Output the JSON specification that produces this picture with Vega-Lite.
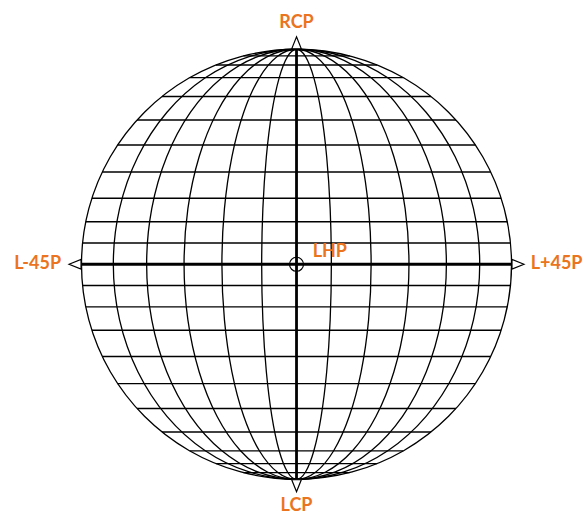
{
  "$schema": "https://vega.github.io/schema/vega-lite/v6.json",
  "width": 584,
  "height": 515,
  "padding": 0,
  "autosize": {"type": "none"},
  "background": "white",
  "config": {"view": {"stroke": null}},
  "encoding": {
    "x": {"field": "x", "type": "quantitative", "scale": {"domain": [-1.379, 1.337], "nice": false, "zero": false}, "axis": null},
    "y": {"field": "y", "type": "quantitative", "scale": {"domain": [-1.166, 1.229], "nice": false, "zero": false}, "axis": null}
  },
  "layer": [
    {
      "data": {"values": [
        {"y": 0.099, "x": -0.9951, "x2": 0.9951}, {"y": -0.099, "x": -0.9951, "x2": 0.9951},
        {"y": 0.198, "x": -0.9802, "x2": 0.9802}, {"y": -0.198, "x": -0.9802, "x2": 0.9802},
        {"y": 0.307, "x": -0.9517, "x2": 0.9517}, {"y": -0.307, "x": -0.9517, "x2": 0.9517},
        {"y": 0.429, "x": -0.9033, "x2": 0.9033}, {"y": -0.429, "x": -0.9033, "x2": 0.9033},
        {"y": 0.555, "x": -0.8319, "x2": 0.8319}, {"y": -0.555, "x": -0.8319, "x2": 0.8319},
        {"y": 0.671, "x": -0.7415, "x2": 0.7415}, {"y": -0.671, "x": -0.7415, "x2": 0.7415},
        {"y": 0.780, "x": -0.6258, "x2": 0.6258}, {"y": -0.780, "x": -0.6258, "x2": 0.6258},
        {"y": 0.868, "x": -0.4966, "x2": 0.4966}, {"y": -0.868, "x": -0.4966, "x2": 0.4966},
        {"y": 0.927, "x": -0.3751, "x2": 0.3751}, {"y": -0.927, "x": -0.3751, "x2": 0.3751},
        {"y": 0.969, "x": -0.2470, "x2": 0.2470}, {"y": -0.969, "x": -0.2470, "x2": 0.2470}
      ]},
      "mark": {"type": "rule", "color": "black", "strokeWidth": 1.4},
      "encoding": {"x2": {"field": "x2"}}
    },
    {
      "data": {"values": [
        {"m": 1, "o": 0, "x": 0, "y": 1}, {"m": 1, "o": 1, "x": 0.0419, "y": 0.9659}, {"m": 1, "o": 2, "x": 0.081, "y": 0.866}, {"m": 1, "o": 3, "x": 0.1146, "y": 0.7071}, {"m": 1, "o": 4, "x": 0.1403, "y": 0.5}, {"m": 1, "o": 5, "x": 0.1565, "y": 0.2588}, {"m": 1, "o": 6, "x": 0.162, "y": 0}, {"m": 1, "o": 7, "x": 0.1565, "y": -0.2588}, {"m": 1, "o": 8, "x": 0.1403, "y": -0.5}, {"m": 1, "o": 9, "x": 0.1146, "y": -0.7071}, {"m": 1, "o": 10, "x": 0.081, "y": -0.866}, {"m": 1, "o": 11, "x": 0.0419, "y": -0.9659},
        {"m": 1, "o": 12, "x": 0, "y": -1}, {"m": 1, "o": 13, "x": -0.0419, "y": -0.9659}, {"m": 1, "o": 14, "x": -0.081, "y": -0.866}, {"m": 1, "o": 15, "x": -0.1146, "y": -0.7071}, {"m": 1, "o": 16, "x": -0.1403, "y": -0.5}, {"m": 1, "o": 17, "x": -0.1565, "y": -0.2588}, {"m": 1, "o": 18, "x": -0.162, "y": 0}, {"m": 1, "o": 19, "x": -0.1565, "y": 0.2588}, {"m": 1, "o": 20, "x": -0.1403, "y": 0.5}, {"m": 1, "o": 21, "x": -0.1146, "y": 0.7071}, {"m": 1, "o": 22, "x": -0.081, "y": 0.866}, {"m": 1, "o": 23, "x": -0.0419, "y": 0.9659},

        {"m": 2, "o": 0, "x": 0, "y": 1}, {"m": 2, "o": 1, "x": 0.0898, "y": 0.9659}, {"m": 2, "o": 2, "x": 0.1735, "y": 0.866}, {"m": 2, "o": 3, "x": 0.2454, "y": 0.7071}, {"m": 2, "o": 4, "x": 0.3005, "y": 0.5}, {"m": 2, "o": 5, "x": 0.3352, "y": 0.2588}, {"m": 2, "o": 6, "x": 0.347, "y": 0}, {"m": 2, "o": 7, "x": 0.3352, "y": -0.2588}, {"m": 2, "o": 8, "x": 0.3005, "y": -0.5}, {"m": 2, "o": 9, "x": 0.2454, "y": -0.7071}, {"m": 2, "o": 10, "x": 0.1735, "y": -0.866}, {"m": 2, "o": 11, "x": 0.0898, "y": -0.9659},
        {"m": 2, "o": 12, "x": 0, "y": -1}, {"m": 2, "o": 13, "x": -0.0898, "y": -0.9659}, {"m": 2, "o": 14, "x": -0.1735, "y": -0.866}, {"m": 2, "o": 15, "x": -0.2454, "y": -0.7071}, {"m": 2, "o": 16, "x": -0.3005, "y": -0.5}, {"m": 2, "o": 17, "x": -0.3352, "y": -0.2588}, {"m": 2, "o": 18, "x": -0.347, "y": 0}, {"m": 2, "o": 19, "x": -0.3352, "y": 0.2588}, {"m": 2, "o": 20, "x": -0.3005, "y": 0.5}, {"m": 2, "o": 21, "x": -0.2454, "y": 0.7071}, {"m": 2, "o": 22, "x": -0.1735, "y": 0.866}, {"m": 2, "o": 23, "x": -0.0898, "y": 0.9659},

        {"m": 3, "o": 0, "x": 0, "y": 1}, {"m": 3, "o": 1, "x": 0.1354, "y": 0.9659}, {"m": 3, "o": 2, "x": 0.2615, "y": 0.866}, {"m": 3, "o": 3, "x": 0.3698, "y": 0.7071}, {"m": 3, "o": 4, "x": 0.4529, "y": 0.5}, {"m": 3, "o": 5, "x": 0.5052, "y": 0.2588}, {"m": 3, "o": 6, "x": 0.523, "y": 0}, {"m": 3, "o": 7, "x": 0.5052, "y": -0.2588}, {"m": 3, "o": 8, "x": 0.4529, "y": -0.5}, {"m": 3, "o": 9, "x": 0.3698, "y": -0.7071}, {"m": 3, "o": 10, "x": 0.2615, "y": -0.866}, {"m": 3, "o": 11, "x": 0.1354, "y": -0.9659},
        {"m": 3, "o": 12, "x": 0, "y": -1}, {"m": 3, "o": 13, "x": -0.1354, "y": -0.9659}, {"m": 3, "o": 14, "x": -0.2615, "y": -0.866}, {"m": 3, "o": 15, "x": -0.3698, "y": -0.7071}, {"m": 3, "o": 16, "x": -0.4529, "y": -0.5}, {"m": 3, "o": 17, "x": -0.5052, "y": -0.2588}, {"m": 3, "o": 18, "x": -0.523, "y": 0}, {"m": 3, "o": 19, "x": -0.5052, "y": 0.2588}, {"m": 3, "o": 20, "x": -0.4529, "y": 0.5}, {"m": 3, "o": 21, "x": -0.3698, "y": 0.7071}, {"m": 3, "o": 22, "x": -0.2615, "y": 0.866}, {"m": 3, "o": 23, "x": -0.1354, "y": 0.9659},

        {"m": 4, "o": 0, "x": 0, "y": 1}, {"m": 4, "o": 1, "x": 0.1804, "y": 0.9659}, {"m": 4, "o": 2, "x": 0.3485, "y": 0.866}, {"m": 4, "o": 3, "x": 0.4929, "y": 0.7071}, {"m": 4, "o": 4, "x": 0.6036, "y": 0.5}, {"m": 4, "o": 5, "x": 0.6732, "y": 0.2588}, {"m": 4, "o": 6, "x": 0.697, "y": 0}, {"m": 4, "o": 7, "x": 0.6732, "y": -0.2588}, {"m": 4, "o": 8, "x": 0.6036, "y": -0.5}, {"m": 4, "o": 9, "x": 0.4929, "y": -0.7071}, {"m": 4, "o": 10, "x": 0.3485, "y": -0.866}, {"m": 4, "o": 11, "x": 0.1804, "y": -0.9659},
        {"m": 4, "o": 12, "x": 0, "y": -1}, {"m": 4, "o": 13, "x": -0.1804, "y": -0.9659}, {"m": 4, "o": 14, "x": -0.3485, "y": -0.866}, {"m": 4, "o": 15, "x": -0.4929, "y": -0.7071}, {"m": 4, "o": 16, "x": -0.6036, "y": -0.5}, {"m": 4, "o": 17, "x": -0.6732, "y": -0.2588}, {"m": 4, "o": 18, "x": -0.697, "y": 0}, {"m": 4, "o": 19, "x": -0.6732, "y": 0.2588}, {"m": 4, "o": 20, "x": -0.6036, "y": 0.5}, {"m": 4, "o": 21, "x": -0.4929, "y": 0.7071}, {"m": 4, "o": 22, "x": -0.3485, "y": 0.866}, {"m": 4, "o": 23, "x": -0.1804, "y": 0.9659},

        {"m": 5, "o": 0, "x": 0, "y": 1}, {"m": 5, "o": 1, "x": 0.2205, "y": 0.9659}, {"m": 5, "o": 2, "x": 0.426, "y": 0.866}, {"m": 5, "o": 3, "x": 0.6025, "y": 0.7071}, {"m": 5, "o": 4, "x": 0.7378, "y": 0.5}, {"m": 5, "o": 5, "x": 0.823, "y": 0.2588}, {"m": 5, "o": 6, "x": 0.852, "y": 0}, {"m": 5, "o": 7, "x": 0.823, "y": -0.2588}, {"m": 5, "o": 8, "x": 0.7378, "y": -0.5}, {"m": 5, "o": 9, "x": 0.6025, "y": -0.7071}, {"m": 5, "o": 10, "x": 0.426, "y": -0.866}, {"m": 5, "o": 11, "x": 0.2205, "y": -0.9659},
        {"m": 5, "o": 12, "x": 0, "y": -1}, {"m": 5, "o": 13, "x": -0.2205, "y": -0.9659}, {"m": 5, "o": 14, "x": -0.426, "y": -0.866}, {"m": 5, "o": 15, "x": -0.6025, "y": -0.7071}, {"m": 5, "o": 16, "x": -0.7378, "y": -0.5}, {"m": 5, "o": 17, "x": -0.823, "y": -0.2588}, {"m": 5, "o": 18, "x": -0.852, "y": 0}, {"m": 5, "o": 19, "x": -0.823, "y": 0.2588}, {"m": 5, "o": 20, "x": -0.7378, "y": 0.5}, {"m": 5, "o": 21, "x": -0.6025, "y": 0.7071}, {"m": 5, "o": 22, "x": -0.426, "y": 0.866}, {"m": 5, "o": 23, "x": -0.2205, "y": 0.9659},

        {"m": 6, "o": 0, "x": 0, "y": 1}, {"m": 6, "o": 1, "x": 0.2588, "y": 0.9659}, {"m": 6, "o": 2, "x": 0.5, "y": 0.866}, {"m": 6, "o": 3, "x": 0.7071, "y": 0.7071}, {"m": 6, "o": 4, "x": 0.866, "y": 0.5}, {"m": 6, "o": 5, "x": 0.9659, "y": 0.2588}, {"m": 6, "o": 6, "x": 1, "y": 0}, {"m": 6, "o": 7, "x": 0.9659, "y": -0.2588}, {"m": 6, "o": 8, "x": 0.866, "y": -0.5}, {"m": 6, "o": 9, "x": 0.7071, "y": -0.7071}, {"m": 6, "o": 10, "x": 0.5, "y": -0.866}, {"m": 6, "o": 11, "x": 0.2588, "y": -0.9659},
        {"m": 6, "o": 12, "x": 0, "y": -1}, {"m": 6, "o": 13, "x": -0.2588, "y": -0.9659}, {"m": 6, "o": 14, "x": -0.5, "y": -0.866}, {"m": 6, "o": 15, "x": -0.7071, "y": -0.7071}, {"m": 6, "o": 16, "x": -0.866, "y": -0.5}, {"m": 6, "o": 17, "x": -0.9659, "y": -0.2588}, {"m": 6, "o": 18, "x": -1, "y": 0}, {"m": 6, "o": 19, "x": -0.9659, "y": 0.2588}, {"m": 6, "o": 20, "x": -0.866, "y": 0.5}, {"m": 6, "o": 21, "x": -0.7071, "y": 0.7071}, {"m": 6, "o": 22, "x": -0.5, "y": 0.866}, {"m": 6, "o": 23, "x": -0.2588, "y": 0.9659}
      ]},
      "mark": {"type": "line", "color": "black", "strokeWidth": 1.3, "interpolate": "cardinal-closed"},
      "encoding": {
        "detail": {"field": "m", "type": "nominal"},
        "order": {"field": "o", "type": "quantitative"}
      }
    },
    {
      "data": {"values": [
        {"x": -1, "x2": 1, "y": 0, "y2": 0},
        {"x": 0, "x2": 0, "y": -1, "y2": 1}
      ]},
      "mark": {"type": "rule", "color": "black", "strokeWidth": 2.8},
      "encoding": {"x2": {"field": "x2"}, "y2": {"field": "y2"}}
    },
    {
      "data": {"values": [{"x": 0, "y": 0}]},
      "mark": {"type": "point", "shape": "circle", "size": 196, "filled": false, "stroke": "black", "strokeWidth": 1.2, "opacity": 1}
    },
    {
      "data": {"values": [
        {"dir": "up", "x": 0, "y": 1.03},
        {"dir": "down", "x": 0, "y": -1.03},
        {"dir": "left", "x": -1.03, "y": 0},
        {"dir": "right", "x": 1.03, "y": 0}
      ]},
      "mark": {"type": "point", "size": 144, "filled": true, "fill": "white", "stroke": "black", "strokeWidth": 1.2, "opacity": 1},
      "encoding": {
        "shape": {"field": "dir", "type": "nominal", "legend": null,
          "scale": {"domain": ["up", "down", "left", "right"],
                    "range": ["M0,-1L0.8,1L-0.8,1Z", "M0,1L0.8,-1L-0.8,-1Z", "M-1,0L1,-0.8L1,0.8Z", "M1,0L-1,-0.8L-1,0.8Z"]}}
      }
    },
    {
      "data": {"values": [
        {"label": "RCP", "x": 0, "y": 1.122},
        {"label": "LCP", "x": 0, "y": -1.124}
      ]},
      "mark": {"type": "text", "align": "center", "baseline": "middle", "font": "Lato", "fontWeight": "bold", "fontSize": 18, "color": "#EB7420"},
      "encoding": {"text": {"field": "label"}}
    },
    {
      "data": {"values": [
        {"label": "L-45P", "x": -1.095, "y": 0}
      ]},
      "mark": {"type": "text", "align": "right", "baseline": "middle", "font": "Lato", "fontWeight": "bold", "fontSize": 18, "color": "#EB7420"},
      "encoding": {"text": {"field": "label"}}
    },
    {
      "data": {"values": [
        {"label": "L+45P", "x": 1.089, "y": 0},
        {"label": "LHP", "x": 0.075, "y": 0.058}
      ]},
      "mark": {"type": "text", "align": "left", "baseline": "middle", "font": "Lato", "fontWeight": "bold", "fontSize": 18, "color": "#EB7420"},
      "encoding": {"text": {"field": "label"}}
    }
  ]
}
